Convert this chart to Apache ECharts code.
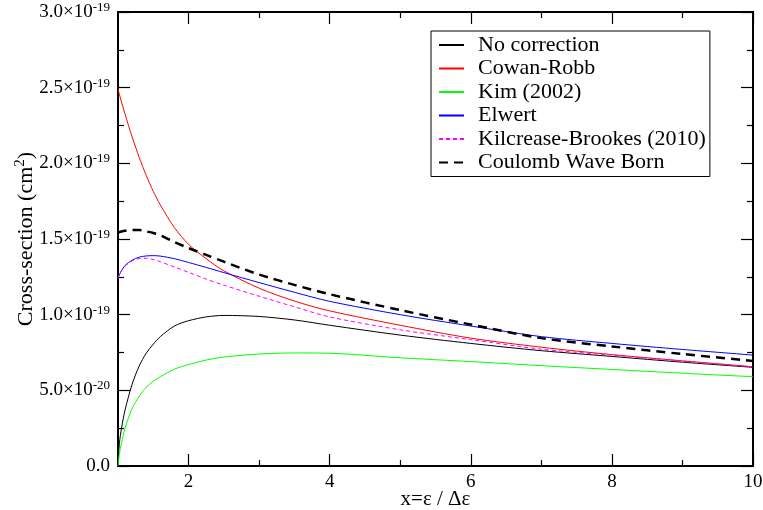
<!DOCTYPE html>
<html>
<head>
<meta charset="utf-8">
<script src="https://cdn.jsdelivr.net/npm/echarts@6/dist/echarts.min.js"></script>
<style>html,body{margin:0;padding:0;background:#fff}#c{width:763px;height:510px}</style>
</head>
<body>
<div id="c"></div>
<script>
// x = ε / Δε
const xs = [1, 1.02, 1.05, 1.1, 1.2, 1.3, 1.4, 1.5, 1.6, 1.8, 2, 2.25, 2.5, 3, 3.5, 4, 5, 6, 7, 8, 9, 10];
// cross-sections in units of 1e-19 cm^2
const noCorrection = [0, 0.15, 0.25, 0.37, 0.54, 0.66, 0.745, 0.805, 0.855, 0.925, 0.96, 0.985, 0.995, 0.988, 0.965, 0.93, 0.865, 0.81, 0.762, 0.724, 0.686, 0.652];
const cowanRobb = [2.49, 2.455, 2.405, 2.325, 2.175, 2.04, 1.92, 1.815, 1.725, 1.575, 1.465, 1.37, 1.29, 1.175, 1.09, 1.025, 0.93, 0.845, 0.785, 0.736, 0.695, 0.656];
const kim2002 = [0, 0.08, 0.15, 0.25, 0.38, 0.46, 0.52, 0.56, 0.59, 0.64, 0.67, 0.70, 0.72, 0.74, 0.747, 0.745, 0.715, 0.69, 0.663, 0.638, 0.613, 0.59];
const elwert = [1.24, 1.265, 1.29, 1.325, 1.36, 1.38, 1.388, 1.39, 1.387, 1.37, 1.345, 1.312, 1.278, 1.212, 1.148, 1.088, 1.0, 0.925, 0.855, 0.81, 0.77, 0.733];
const kilcreaseBrookes = [1.24, 1.265, 1.29, 1.32, 1.355, 1.37, 1.372, 1.365, 1.35, 1.315, 1.28, 1.235, 1.195, 1.122, 1.052, 0.985, 0.9, 0.835, 0.772, 0.733, 0.693, 0.655];
const coulombWaveBorn = [1.54, 1.545, 1.55, 1.555, 1.56, 1.56, 1.55, 1.54, 1.525, 1.48, 1.44, 1.395, 1.35, 1.265, 1.197, 1.135, 1.03, 0.935, 0.845, 0.79, 0.74, 0.694];

const xMajor = [2, 4, 6, 8, 10];
const xMinor = [3, 5, 7, 9];
const yTicks = [0, 0.5, 1.0, 1.5, 2.0, 2.5, 3.0];
const yTickMant = ['0.0', '5.0', '1.0', '1.5', '2.0', '2.5', '3.0'];
const yTickExp = ['', '-20', '-19', '-19', '-19', '-19', '-19'];

const FONT = '"Liberation Serif", "DejaVu Serif", serif';

function yLabel(v) {
  const i = yTicks.findIndex(t => Math.abs(t - v) < 1e-9);
  if (i < 0) return '';
  if (!yTickExp[i]) return '{a|' + yTickMant[i] + '}';
  return '{a|' + yTickMant[i] + '×10}{s|' + yTickExp[i] + '}';
}
const pairs = arr => xs.map((x, i) => [x, arr[i]]);

const axisLine = { show: true, onZero: false, lineStyle: { color: '#000', width: 2 } };
const xBase = { type: 'value', min: 1, max: 10, splitLine: { show: false }, axisLine: axisLine };
const yBase = { type: 'value', min: 0, max: 3, interval: 0.5, splitLine: { show: false }, axisLine: axisLine };

const chart = echarts.init(document.getElementById('c'), null, { renderer: 'canvas' });
chart.setOption({
  animation: false,
  backgroundColor: '#fff',
  grid: { left: 118, right: 10, top: 12, bottom: 44, containLabel: false, outerBoundsMode: 'none' },
  textStyle: { fontFamily: FONT },
  legend: {
    orient: 'vertical', left: 431, top: 31,
    itemWidth: 25, itemHeight: 12, itemGap: 1.5,
    padding: [3, 4, 3, 7],
    borderColor: '#000', borderWidth: 1,
    itemStyle: { opacity: 0 },
    textStyle: { fontFamily: FONT, fontSize: 22, color: '#000', lineHeight: 22, padding: [0, 0, 0, 9] },
    data: ['No correction', 'Cowan-Robb', 'Kim (2002)', 'Elwert', 'Kilcrease-Brookes (2010)', 'Coulomb Wave Born']
  },
  xAxis: [
    Object.assign({}, xBase, {
      position: 'bottom',
      name: 'x=ε / Δε', nameLocation: 'middle', nameGap: 23, nameMoveOverlap: false,
      nameTextStyle: { fontFamily: FONT, fontSize: 21, color: '#000' },
      axisTick: { show: true, inside: true, length: 12, lineStyle: { color: '#000', width: 1.2 }, customValues: xMajor },
      axisLabel: { show: true, margin: 7, fontFamily: FONT, fontSize: 19, color: '#000', customValues: xMajor }
    }),
    Object.assign({}, xBase, {
      position: 'bottom',
      axisTick: { show: true, inside: true, length: 6, lineStyle: { color: '#000', width: 1.2 }, customValues: xMinor },
      axisLabel: { show: false }
    }),
    Object.assign({}, xBase, {
      position: 'top',
      axisTick: { show: true, inside: true, length: 12, lineStyle: { color: '#000', width: 1.2 }, customValues: xMajor },
      axisLabel: { show: false }
    }),
    Object.assign({}, xBase, {
      position: 'top',
      axisTick: { show: true, inside: true, length: 6, lineStyle: { color: '#000', width: 1.2 }, customValues: xMinor },
      axisLabel: { show: false }
    })
  ],
  yAxis: [
    Object.assign({}, yBase, {
      position: 'left',
      name: 'Cross-section (cm{s|2})', nameLocation: 'middle', nameGap: 79, nameRotate: 90, nameMoveOverlap: false,
      nameTextStyle: {
        fontFamily: FONT, fontSize: 22, color: '#000',
        rich: {
          s: { fontFamily: FONT, fontSize: 15, color: '#000', verticalAlign: 'bottom', padding: [0, 0, 11, 0] }
        }
      },
      axisTick: { show: true, inside: true, length: 12, lineStyle: { color: '#000', width: 1.2 } },
      minorTick: { show: true, splitNumber: 2, length: 6, lineStyle: { color: '#000', width: 1.2 } },
      axisLabel: {
        show: true, margin: 8, formatter: yLabel,
        rich: {
          a: { fontFamily: FONT, fontSize: 19, color: '#000' },
          s: { fontFamily: FONT, fontSize: 13, color: '#000', verticalAlign: 'bottom', padding: [0, 0, 9, 0] }
        }
      }
    }),
    Object.assign({}, yBase, {
      position: 'right',
      axisTick: { show: true, inside: true, length: 12, lineStyle: { color: '#000', width: 1.2 } },
      minorTick: { show: true, splitNumber: 2, length: 6, lineStyle: { color: '#000', width: 1.2 } },
      axisLabel: { show: false }
    })
  ],
  series: [
    { name: 'No correction', type: 'line', data: pairs(noCorrection), color: '#000000', lineStyle: { width: 1, color: '#000000' } },
    { name: 'Cowan-Robb', type: 'line', data: pairs(cowanRobb), color: '#ff0000', lineStyle: { width: 1, color: '#ff0000' } },
    { name: 'Kim (2002)', type: 'line', data: pairs(kim2002), color: '#00ff00', lineStyle: { width: 1, color: '#00ff00' } },
    { name: 'Elwert', type: 'line', data: pairs(elwert), color: '#0000ff', lineStyle: { width: 1, color: '#0000ff' } },
    { name: 'Kilcrease-Brookes (2010)', type: 'line', data: pairs(kilcreaseBrookes), color: '#ff00ff', lineStyle: { width: 1, color: '#ff00ff', type: [4, 3] } },
    { name: 'Coulomb Wave Born', type: 'line', data: pairs(coulombWaveBorn), color: '#000000', lineStyle: { width: 2.5, color: '#000000', type: [9, 6] } }
  ].map(s => Object.assign({ symbol: 'none', smooth: 0.3, xAxisIndex: 0, yAxisIndex: 0, clip: true }, s))
});
</script>
</body>
</html>
